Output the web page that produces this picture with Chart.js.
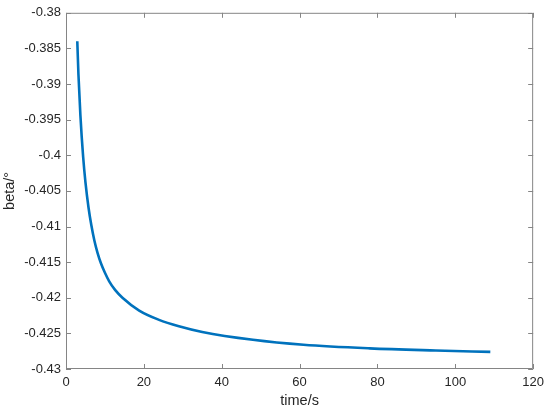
<!DOCTYPE html>
<html>
<head>
<meta charset="utf-8">
<script src="https://cdn.jsdelivr.net/npm/chart.js@4.4.1/dist/chart.umd.min.js"></script>
<style>
  html, body { margin: 0; padding: 0; background: #fff; }
  #wrap { width: 550px; height: 410px; }
</style>
</head>
<body>
<div id="wrap"><canvas id="myChart" width="550" height="410"></canvas></div>
<script>
// time (s) and beta (deg)
const timeValues = [2.9, 3.2, 3.7, 4.4, 5.0, 5.8, 6.5, 7.3, 8.1, 9.0, 10, 11.1, 12.6, 14.5, 18.8, 23.9, 29, 35, 48, 61, 78, 95, 109];
const betaValues = [-0.3840, -0.3887, -0.3944, -0.4002, -0.4038, -0.4074, -0.4098, -0.4120, -0.4137, -0.4152,
  -0.4165, -0.4177, -0.4189, -0.4200, -0.4218, -0.4231, -0.4240, -0.4248, -0.4259, -0.4266, -0.4271, -0.4274, -0.4276];
const xTicks = [0, 20, 40, 60, 80, 100, 120];
const yTicks = [-0.43, -0.425, -0.42, -0.415, -0.41, -0.405, -0.4, -0.395, -0.39, -0.385, -0.38];

const axisColor = '#858585';
const textColor = '#262626';
const fontFamily = 'Arial, "Liberation Sans", sans-serif';

// box around the axes + inward ticks like matlab
const boxTicks = {
  id: 'boxTicks',
  afterDraw(chart) {
    const { ctx, chartArea: a, scales } = chart;
    const len = 5;
    ctx.save();
    ctx.strokeStyle = axisColor;
    ctx.lineWidth = 1;
    ctx.beginPath();
    ctx.rect(a.left + 0.5, a.top + 0.5, a.right - a.left - 1, a.bottom - a.top - 1);
    xTicks.forEach(v => {
      const px = Math.round(scales.x.getPixelForValue(v)) + 0.5;
      ctx.moveTo(px, a.bottom); ctx.lineTo(px, a.bottom - len);
      ctx.moveTo(px, a.top); ctx.lineTo(px, a.top + len);
    });
    yTicks.forEach(v => {
      const py = Math.round(scales.y.getPixelForValue(v)) + 0.5;
      ctx.moveTo(a.left, py); ctx.lineTo(a.left + len, py);
      ctx.moveTo(a.right, py); ctx.lineTo(a.right - len, py);
    });
    ctx.stroke();
    ctx.restore();
  }
};

new Chart(document.getElementById('myChart').getContext('2d'), {
  type: 'scatter',
  data: {
    datasets: [{
      data: timeValues.map((t, i) => ({ x: t, y: betaValues[i] })),
      showLine: true,
      borderColor: '#0072BD',
      borderWidth: 2.6,
      pointRadius: 0,
      cubicInterpolationMode: 'monotone',
      fill: false,
    }]
  },
  options: {
    responsive: false,
    animation: false,
    layout: { padding: { left: 0, top: 10, right: 16, bottom: 0 } },
    plugins: { legend: { display: false }, tooltip: { enabled: false } },
    scales: {
      x: {
        type: 'linear',
        min: 0, max: 120,
        afterBuildTicks: s => { s.ticks = xTicks.map(v => ({ value: v })); },
        afterFit: s => { s.height = 41; },
        grid: { display: false, drawTicks: false },
        border: { display: false },
        ticks: { color: textColor, font: { family: fontFamily, size: 13 }, padding: 6, maxRotation: 0 },
        title: { display: true, text: 'time/s', color: textColor, font: { family: fontFamily, size: 14.5 }, padding: { top: 0, bottom: 0 } },
      },
      y: {
        type: 'linear',
        min: -0.43, max: -0.38,
        afterBuildTicks: s => { s.ticks = yTicks.map(v => ({ value: v })); },
        afterFit: s => { s.width = 66; },
        grid: { display: false, drawTicks: false },
        border: { display: false },
        ticks: { color: textColor, font: { family: fontFamily, size: 13 }, padding: 5,
          callback: v => String(Number(v.toFixed(3))) },
        title: { display: true, text: 'beta/°', color: textColor, font: { family: fontFamily, size: 14.5 }, padding: { top: 1, bottom: 0 } },
      }
    }
  },
  plugins: [boxTicks]
});
</script>
</body>
</html>
